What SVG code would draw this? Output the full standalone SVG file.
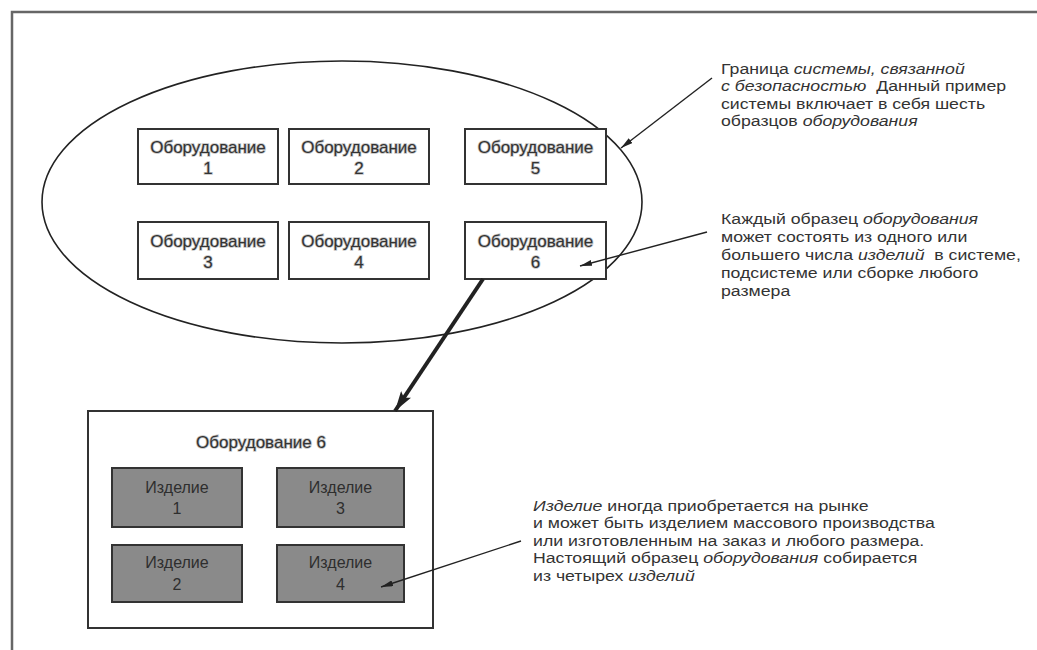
<svg xmlns="http://www.w3.org/2000/svg" width="1037" height="650" viewBox="0 0 1037 650">
<style>
.frame{fill:none;stroke:#666;stroke-width:2.5}
.eq{fill:#fff;stroke:#333;stroke-width:2}
.eqt{font-family:"Liberation Sans",Arial,sans-serif;font-size:17px;fill:#333;text-anchor:middle;stroke:#c4c4c4;stroke-width:1.6;paint-order:stroke}
.it{fill:#8a8a8a;stroke:#333;stroke-width:2}
.itt{font-family:"Liberation Sans",Arial,sans-serif;font-size:16px;fill:#2e2e2e;text-anchor:middle}
.note{font-family:"Liberation Sans",Arial,sans-serif;font-size:15px;fill:#333}
.i{font-style:italic}
.thin{fill:none;stroke:#222;stroke-width:1.4}
.thick{fill:none;stroke:#222;stroke-width:4}
</style>
<defs>
<marker id="ah" viewBox="0 0 12 6" refX="12" refY="3" markerWidth="12" markerHeight="6" markerUnits="userSpaceOnUse" orient="auto">
<path d="M0,0 L12,3 L0,6 Z" fill="#222"/>
</marker>
<marker id="ahb" viewBox="0 0 20 12" refX="20" refY="6" markerWidth="20" markerHeight="12" markerUnits="userSpaceOnUse" orient="auto">
<path d="M0,0 L20,6 L0,12 L4,6 Z" fill="#222"/>
</marker>
</defs>
<rect width="1037" height="650" fill="#fff"/>
<path class="frame" d="M12,650 L12,12 L1037,12"/>
<g id="system-boundary">
<ellipse cx="342" cy="202" rx="300" ry="141" fill="none" stroke="#222" stroke-width="1.6"/>
</g>
<g id="eq1"><rect class="eq" x="138" y="129" width="140" height="55"/><text class="eqt" x="208" y="153">Оборудование</text><text class="eqt" x="208" y="174">1</text></g>
<g id="eq2"><rect class="eq" x="289" y="129" width="140" height="55"/><text class="eqt" x="359" y="153">Оборудование</text><text class="eqt" x="359" y="174">2</text></g>
<g id="eq5"><rect class="eq" x="465" y="129" width="141" height="55"/><text class="eqt" x="535.5" y="153">Оборудование</text><text class="eqt" x="535.5" y="174">5</text></g>
<g id="eq3"><rect class="eq" x="138" y="222" width="140" height="57"/><text class="eqt" x="208" y="247">Оборудование</text><text class="eqt" x="208" y="268">3</text></g>
<g id="eq4"><rect class="eq" x="289" y="222" width="140" height="57"/><text class="eqt" x="359" y="247">Оборудование</text><text class="eqt" x="359" y="268">4</text></g>
<g id="eq6"><rect class="eq" x="465" y="222" width="141" height="57"/><text class="eqt" x="535.5" y="247">Оборудование</text><text class="eqt" x="535.5" y="268">6</text></g>
<g id="eq6-detail">
<rect x="88" y="411" width="345" height="217" fill="#fff" stroke="#333" stroke-width="2"/>
<text class="eqt" x="261" y="448">Оборудование 6</text>
</g>
<g id="it1"><rect class="it" x="112" y="468" width="130" height="59"/><text class="itt" x="177" y="493">Изделие</text><text class="itt" x="177" y="514">1</text></g>
<g id="it3"><rect class="it" x="277" y="468" width="127" height="59"/><text class="itt" x="340.5" y="493">Изделие</text><text class="itt" x="340.5" y="514">3</text></g>
<g id="it2"><rect class="it" x="112" y="545" width="130" height="57"/><text class="itt" x="177" y="568">Изделие</text><text class="itt" x="177" y="590">2</text></g>
<g id="it4"><rect class="it" x="277" y="545" width="127" height="57"/><text class="itt" x="340.5" y="568">Изделие</text><text class="itt" x="340.5" y="590">4</text></g>
<g id="connectors">
<line class="thin" x1="712" y1="78" x2="621" y2="148" marker-end="url(#ah)"/>
<line class="thin" x1="707" y1="232" x2="580" y2="266" marker-end="url(#ah)"/>
<line class="thick" x1="483" y1="279" x2="395" y2="411" marker-end="url(#ahb)"/>
<line class="thin" x1="521" y1="541" x2="381" y2="587" marker-end="url(#ah)"/>
</g>
<g id="note1" transform="translate(721,0) scale(1.18,1)">
<text class="note" x="0" y="74">Граница <tspan class="i">системы, связанной</tspan></text>
<text class="note" x="0" y="91.5"><tspan class="i">с безопасностью</tspan>&#160; Данный пример</text>
<text class="note" x="0" y="109">системы включает в себя шесть</text>
<text class="note" x="0" y="126.5">образцов <tspan class="i">оборудования</tspan></text>
</g>
<g id="note2" transform="translate(721,0) scale(1.18,1)">
<text class="note" x="0" y="224">Каждый образец <tspan class="i">оборудования</tspan></text>
<text class="note" x="0" y="242">может состоять из одного или</text>
<text class="note" x="0" y="260">большего числа <tspan class="i">изделий</tspan>&#160; в системе,</text>
<text class="note" x="0" y="278">подсистеме или сборке любого</text>
<text class="note" x="0" y="296">размера</text>
</g>
<g id="note3" transform="translate(533,0) scale(1.18,1)">
<text class="note" x="0" y="511"><tspan class="i">Изделие</tspan> иногда приобретается на рынке</text>
<text class="note" x="0" y="528.5">и может быть изделием массового производства</text>
<text class="note" x="0" y="546">или изготовленным на заказ и любого размера.</text>
<text class="note" x="0" y="563.5">Настоящий образец <tspan class="i">оборудования</tspan> собирается</text>
<text class="note" x="0" y="581">из четырех <tspan class="i">изделий</tspan></text>
</g>
</svg>
